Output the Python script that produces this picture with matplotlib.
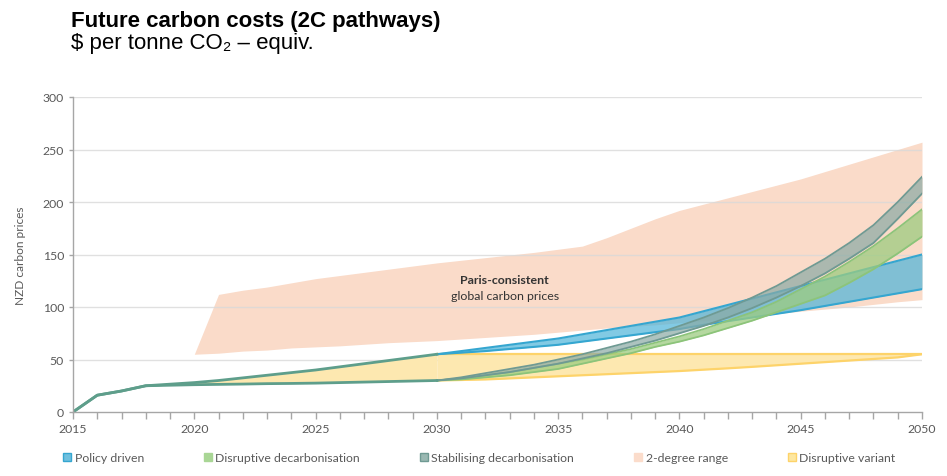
import matplotlib
matplotlib.use("Agg")
import matplotlib.pyplot as plt
from matplotlib.patches import Patch
import numpy as np

# years
yrs_all = list(range(2015, 2051))
yrs_early = list(range(2015, 2031))
yrs_late = list(range(2030, 2051))
yrs_2deg = list(range(2020, 2051))

# shared paths up to 2030
early_upper = [0, 16, 20, 25, 26.5, 28, 30, 32.5, 35, 37.5, 40, 43, 46, 49, 52, 55]
early_lower = [0, 16, 20, 25, 25.5, 26, 26.3, 26.6, 27, 27.2, 27.5, 28, 28.5, 29, 29.5, 30]

# 2030 -> 2050
policy_hi = [55, 58, 61, 64, 67, 70, 74, 78, 82, 86, 90, 96, 102, 108, 114, 120, 126, 132, 138, 144, 150]
policy_lo = [55, 56.5, 58, 60, 62, 64, 67, 70, 73, 76, 79, 83, 86.5, 90, 93.5, 97, 101, 105, 109, 113, 117]
disrupt_hi = [30, 32, 35, 38, 42, 46, 50, 55, 60, 66, 72, 79, 87, 95, 105, 117, 129, 143, 158, 175, 193]
disrupt_lo = [30, 31, 33, 35, 38, 41, 46, 51, 56, 62, 67, 73, 80, 87, 95, 103, 111, 123, 136, 151, 167]
stab_hi = [30, 33, 37, 41, 45, 50, 55, 61, 67, 74, 82, 90, 99, 109, 120, 133, 146, 161, 178, 200, 224]
stab_lo = [30, 32, 35, 38, 42, 46, 51, 56, 62, 68, 75, 82, 90, 99, 109, 120, 132, 146, 161, 184, 208]
variant_hi = [55] * 21
variant_lo = [30, 30.5, 31, 32, 33, 34, 35, 36, 37, 38, 39, 40.3, 41.6, 43, 44.5, 46, 47.5, 49, 50.5, 52, 55]

# 2-degree range 2020 -> 2050
deg2_hi = [55, 112, 116, 119, 123, 127, 130, 133, 136, 139, 142, 144.5, 147, 149.5, 152, 155,
           158, 166, 175, 184, 192, 198, 204, 210, 216, 222, 229, 236, 243, 250, 257]
deg2_lo = [55, 56, 58, 59, 61, 62, 63, 64.5, 66, 67, 68, 69.5, 71, 72.5, 74, 76,
           78, 80, 81.5, 83, 85, 87, 89, 91.5, 93.5, 96, 98, 100, 102.5, 105, 107]

labels = ["Policy driven", "Disruptive decarbonisation", "Stabilising decarbonisation",
          "2-degree range", "Disruptive variant"]

fig = plt.figure(figsize=(9.47, 4.77), dpi=100)
ax = fig.add_axes([73/947, 1-413/477, (922-73)/947, (413-98)/477])

c_peach = '#fadbc9'
c_yel, e_yel = '#fde8b0', '#fdd36a'
c_blue, e_blue = '#4db4d9', '#35a6d0'
c_green, e_green = '#9dcc80', '#8cc47a'
c_grey, e_grey = '#8aaaa4', '#6f9a93'
c_path = '#5e9e8b'

ax.fill_between(yrs_2deg, deg2_lo, deg2_hi, color=c_peach, lw=0, zorder=1)
for v in range(50, 301, 50):
    ax.axhline(v, color='#d9d9d9', lw=1, zorder=1.5, alpha=0.8)

ax.fill_between(yrs_early, early_lower, early_upper, color=c_yel, lw=0, zorder=2)
ax.fill_between(yrs_late, variant_lo, variant_hi, color=c_yel, lw=0, zorder=2)
ax.plot(yrs_late, variant_hi, color=e_yel, lw=1.6, zorder=2.1)
ax.plot(yrs_late, variant_lo, color=e_yel, lw=1.6, zorder=2.1)

ax.fill_between(yrs_late, policy_lo, policy_hi, color=c_blue, alpha=0.7, lw=0, zorder=3)
ax.plot(yrs_late, policy_hi, color=e_blue, lw=1.5, zorder=3.1)
ax.plot(yrs_late, policy_lo, color=e_blue, lw=1.5, zorder=3.1)

ax.fill_between(yrs_late, disrupt_lo, disrupt_hi, color=c_green, alpha=0.75, lw=0, zorder=4)
ax.plot(yrs_late, disrupt_hi, color=e_green, lw=1.3, zorder=4.1)
ax.plot(yrs_late, disrupt_lo, color=e_green, lw=1.3, zorder=4.1)

ax.fill_between(yrs_late, stab_lo, stab_hi, color=c_grey, alpha=0.7, lw=0, zorder=5)
ax.plot(yrs_late, stab_hi, color=e_grey, lw=1.3, zorder=5.1)
ax.plot(yrs_late, stab_lo, color=e_grey, lw=1.3, zorder=5.1)

ax.plot(yrs_early, early_upper, color=c_path, lw=2, zorder=6)
ax.plot(yrs_early, early_lower, color=c_path, lw=2, zorder=6)

ax.text(2032.8, 126, "Paris-consistent", ha='center', va='center', fontsize=8.9,
        fontweight='bold', color='#333333', family='Lato', zorder=7)
ax.text(2032.8, 111, "global carbon prices", ha='center', va='center', fontsize=8.9,
        color='#333333', family='Lato', zorder=7)

ax.set_xlim(2015, 2050)
ax.set_ylim(0, 300)
ax.set_xticks(range(2015, 2051, 5))
ax.set_xticks(yrs_all, minor=True)
ax.set_yticks(range(0, 301, 50))
for s in ['top', 'right']:
    ax.spines[s].set_visible(False)
for s in ['left', 'bottom']:
    ax.spines[s].set_color('#a6a6a6')
    ax.spines[s].set_linewidth(1)
    ax.spines[s].set_zorder(8)
ax.tick_params(axis='x', which='both', direction='out', length=5, color='#a6a6a6', width=1, pad=3)
ax.tick_params(axis='y', which='both', direction='out', length=3, color='#a6a6a6', width=1)
ax.tick_params(labelsize=8.8, labelcolor='#595959')
for t in ax.get_xticklabels() + ax.get_yticklabels():
    t.set_family('Lato')
ax.set_ylabel("NZD carbon prices", fontsize=8.6, color='#595959', family='Lato', labelpad=12)

fig.text(71/947, 1-27/477, "Future carbon costs (2C pathways)", fontsize=16, fontweight='bold',
         family=['Liberation Sans', 'DejaVu Sans'], color='black')
fig.text(71/947, 1-49/477, "$ per tonne CO\u2082 \u2013 equiv.", fontsize=16,
         family=['Liberation Sans', 'DejaVu Sans'], color='black')

handles = [Patch(facecolor='#6fc0de', edgecolor=e_blue),
           Patch(facecolor='#a9d695', edgecolor='#a9d695'),
           Patch(facecolor='#9ab8b2', edgecolor=e_grey),
           Patch(facecolor='#fbdccb', edgecolor='#fbdccb'),
           Patch(facecolor='#fde7a0', edgecolor=e_yel)]
leg = fig.legend(handles, labels, loc='center left', bbox_to_anchor=(52/947, 1-459/477),
                 ncol=5, frameon=False, handlelength=0.65, handleheight=0.65,
                 handletextpad=0.3, columnspacing=4.9,
                 prop={'family': 'Lato', 'size': 8.8})
for t in leg.get_texts():
    t.set_color('#595959')

fig.savefig("out.png", dpi=100)
